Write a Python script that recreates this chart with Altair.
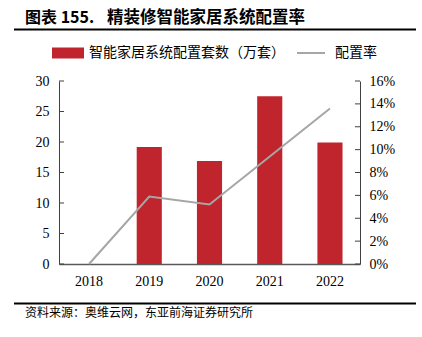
import altair as alt
import pandas as pd

years = ["2018", "2019", "2020", "2021", "2022"]
sets_wan = [0, 19.2, 16.9, 27.5, 19.9]
rate = [0.0, 0.059, 0.052, 0.094, 0.136]

left_ticks = [0, 5, 10, 15, 20, 25, 30]
right_ticks = [0, 0.02, 0.04, 0.06, 0.08, 0.10, 0.12, 0.14, 0.16]

title_prefix = "图表 155."
title_main = "精装修智能家居系统配置率"
legend_bar = "智能家居系统配置套数（万套）"
legend_line = "配置率"
source = "资料来源：奥维云网，东亚前海证券研究所"

RED = "#C0252D"
GRAY = "#A6A6A6"
AXIS = "#404040"
SERIF = "Liberation Serif"
CJK = "Noto Sans CJK SC"

df = pd.DataFrame({"year": years, "sets": sets_wan, "rate": rate})

xenc = alt.X("year:N", title=None,
             scale=alt.Scale(paddingInner=0.583, paddingOuter=0.29),
             axis=alt.Axis(labelAngle=0, ticks=False, domainColor="#595959",
                           domainWidth=1.5, labelFont=SERIF, labelFontSize=14,
                           labelColor="black", labelPadding=10))

left_scale = alt.Scale(domain=[0, 30])
right_scale = alt.Scale(domain=[0, 0.16])

left_axis = alt.Axis(values=left_ticks, ticks=False, grid=False,
                     domainColor=AXIS, labelFont=SERIF, labelFontSize=14,
                     labelColor="black", labelPadding=10)
right_axis = alt.Axis(orient="right", values=right_ticks, format=".0%",
                      ticks=False, grid=False, domainColor=AXIS,
                      labelFont=SERIF, labelFontSize=14,
                      labelColor="black", labelPadding=9)

bars = alt.Chart(df).mark_bar(color=RED).encode(
    x=xenc,
    y=alt.Y("sets:Q", title=None, scale=left_scale, axis=left_axis),
)
lt = alt.Chart(pd.DataFrame({"v": left_ticks})).mark_rule(color=AXIS, strokeWidth=1).encode(
    y=alt.Y("v:Q", title=None, scale=left_scale, axis=left_axis),
    x=alt.value(0), x2=alt.value(5),
)
left = alt.layer(bars, lt)

line = alt.Chart(df).mark_line(color=GRAY, strokeWidth=2).encode(
    x=alt.X("year:N"),
    y=alt.Y("rate:Q", title=None, scale=right_scale, axis=right_axis),
)
rt = alt.Chart(pd.DataFrame({"v": right_ticks})).mark_rule(color=AXIS, strokeWidth=1).encode(
    y=alt.Y("v:Q", title=None, scale=right_scale, axis=right_axis),
    x=alt.value(296), x2=alt.value(301),
)
right = alt.layer(line, rt)


def txt(s, x, y, size, weight="normal", color="black", font=CJK):
    return alt.Chart(pd.DataFrame({"t": [s]})).mark_text(
        align="left", baseline="middle", fontSize=size, fontWeight=weight,
        font=font, color=color
    ).encode(text="t:N", x=alt.value(x), y=alt.value(y))


def hrule(x1, x2, y, w, color):
    return alt.Chart(pd.DataFrame({"a": [0]})).mark_rule(color=color, strokeWidth=w).encode(
        x=alt.value(x1), x2=alt.value(x2), y=alt.value(y))


annot = alt.layer(
    txt(title_prefix, -34, -63, 16, "bold"),
    txt(title_main, 48, -63, 16.5, "bold"),
    hrule(-45, 357, -51.5, 1.8, "black"),
    alt.Chart(pd.DataFrame({"a": [0]})).mark_rect(color=RED).encode(
        x=alt.value(-7), x2=alt.value(25), y=alt.value(-33.5), y2=alt.value(-22.5)),
    txt(legend_bar, 30, -28, 14),
    hrule(238, 266, -28, 2, GRAY),
    txt(legend_line, 276, -28, 14),
    hrule(-45, 357, 222.5, 2, "black"),
    txt(source, -34, 231.5, 12),
)

chart = alt.layer(left, right, annot).resolve_scale(y="independent").properties(
    width=301, height=183,
    autosize=alt.AutoSizeParams(type="none"),
    padding={"left": 59, "top": 81, "right": 62, "bottom": 73},
    background="white",
).configure_view(stroke=None)

chart.save("out.html", embed_options={"renderer": "svg", "actions": False})
